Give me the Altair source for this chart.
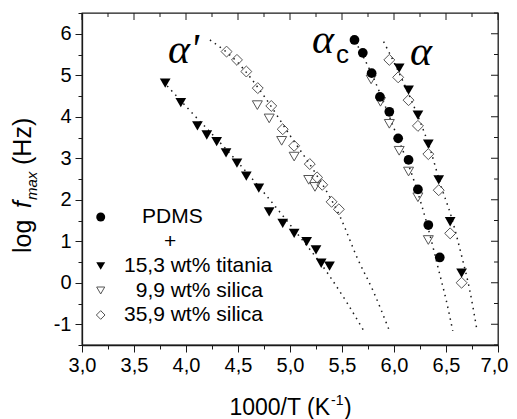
import altair as alt
import pandas as pd

# ---------------- data ----------------
# PDMS (alpha_c)
PDMS_X = [5.62, 5.70, 5.785, 5.865, 5.955, 6.04, 6.14, 6.23, 6.33, 6.44]
PDMS_Y = [5.85, 5.54, 5.05, 4.48, 4.12, 3.48, 2.96, 2.25, 1.39, 0.61]

# 15,3 wt% titania (alpha' and alpha)
TI_X = [3.80, 3.95, 4.11, 4.20, 4.295, 4.385, 4.49, 4.58, 4.70, 4.80, 4.93, 5.04,
        5.16, 5.25, 5.30, 5.38,
        6.05, 6.14, 6.23, 6.33, 6.43, 6.54, 6.65]
TI_Y = [4.81, 4.34, 3.78, 3.56, 3.40, 3.13, 2.88, 2.57, 2.28, 1.71, 1.43, 1.19,
        0.99, 0.79, 0.47, 0.40,
        5.17, 4.64, 4.04, 3.34, 2.48, 1.47, 0.23]

# 9,9 wt% silica (alpha' and alpha_c)
SI9_X = [4.686, 4.80, 4.92, 5.04, 5.18, 5.24,
         5.78, 5.87, 5.955, 6.05, 6.14, 6.23, 6.33]
SI9_Y = [4.28, 3.96, 3.42, 3.04, 2.48, 2.31,
         4.90, 4.36, 3.83, 3.18, 2.68, 2.06, 1.03]

# 35,9 wt% silica (alpha' and alpha)
SI36_X = [4.39, 4.49, 4.58, 4.69, 4.82, 4.93, 5.04, 5.19, 5.26, 5.31, 5.40, 5.47,
          5.955, 6.04, 6.14, 6.23, 6.33, 6.43, 6.54, 6.65]
SI36_Y = [5.57, 5.37, 5.09, 4.69, 4.26, 3.70, 3.30, 2.86, 2.54, 2.36, 1.95, 1.77,
          5.37, 4.95, 4.40, 3.78, 3.10, 2.23, 1.19, 0.00]

# dotted fit curves
FIT_TI_X = [3.78, 4.0, 4.5, 5.0, 5.37, 5.545, 5.71]
FIT_TI_Y = [4.85, 4.25, 2.9, 1.4, 0.2, -0.47, -1.16]
FIT_SI_X = [4.23, 4.5, 4.75, 5.0, 5.25, 5.48, 5.65, 5.8, 5.95]
FIT_SI_Y = [5.85, 5.3, 4.5, 3.55, 2.62, 1.6, 0.58, -0.2, -1.12]
FIT_AC_X = [5.60, 5.8, 6.0, 6.2, 6.33, 6.435, 6.5, 6.565]
FIT_AC_Y = [5.95, 4.95, 3.72, 2.4, 1.3, 0.25, -0.4, -1.16]
FIT_A_X = [5.90, 6.05, 6.2, 6.35, 6.45, 6.55, 6.65, 6.73, 6.80]
FIT_A_Y = [5.81, 5.05, 4.2, 3.2, 2.35, 1.6, 0.65, -0.2, -1.18]

# ticks
X_MAJOR = [3.0, 3.5, 4.0, 4.5, 5.0, 5.5, 6.0, 6.5, 7.0]
X_MINOR = [3.25, 3.75, 4.25, 4.75, 5.25, 5.75, 6.25, 6.75]
Y_MAJOR = [-1, 0, 1, 2, 3, 4, 5, 6]
Y_MINOR = [-1.5, -0.5, 0.5, 1.5, 2.5, 3.5, 4.5, 5.5, 6.5]

LEGEND_LABELS = ["PDMS", "+", "15,3 wt% titania", "9,9 wt% silica", "35,9 wt% silica"]

# ---------------- chart ----------------
W, H = 416, 332
SANS = "Liberation Sans"
SERIF = "Liberation Serif"
INK = "#1a1a1a"
OPEN = "#555555"

xscale = alt.Scale(domain=[3.0, 7.0], nice=False, zero=False)
yscale = alt.Scale(domain=[-1.5, 6.5], nice=False, zero=False)

x_major_test = "abs(datum.value*2 - round(datum.value*2)) < 0.01"
y_major_test = "abs(datum.value - round(datum.value)) < 0.01"

x_axis = alt.Axis(
    values=sorted(X_MAJOR + X_MINOR), title=None, grid=False,
    labelExpr=f"{x_major_test} ? replace(format(datum.value, '.1f'), '.', ',') : ''",
    tickSize={"condition": {"test": x_major_test, "value": 7}, "value": 4},
    labelOffset={"condition": {"test": "datum.value > 6.99", "value": -4}, "value": 0},
    labelFontSize=20, labelPadding=3, labelFlush=False,
)
y_axis = alt.Axis(
    values=sorted(Y_MAJOR + Y_MINOR), title=None, grid=False,
    labelExpr=f"{y_major_test} ? '' + datum.value : ''",
    tickSize={"condition": {"test": y_major_test, "value": 7}, "value": 4},
    labelFontSize=20, labelPadding=4, labelFlush=False,
)


def X(field="x"):
    return alt.X(f"{field}:Q", scale=xscale, axis=x_axis)


def Y(field="y"):
    return alt.Y(f"{field}:Q", scale=yscale, axis=y_axis)


def df(xs, ys):
    return pd.DataFrame({"x": xs, "y": ys})


fits = pd.concat([
    df(FIT_TI_X, FIT_TI_Y).assign(c="ti"),
    df(FIT_SI_X, FIT_SI_Y).assign(c="si"),
    df(FIT_AC_X, FIT_AC_Y).assign(c="ac"),
    df(FIT_A_X, FIT_A_Y).assign(c="a"),
])
fits["o"] = range(len(fits))

one = alt.Data(values=[{"k": 1}])

layers = []
layers.append(
    alt.Chart(fits).mark_line(color=INK, strokeWidth=1.5, strokeDash=[1.5, 4.5],
                              interpolate="monotone")
    .encode(x=X(), y=Y(), detail="c:N", order="o:Q")
)
layers.append(
    alt.Chart(df(SI9_X, SI9_Y)).mark_point(shape="triangle-down", filled=False, color=OPEN,
                                           strokeWidth=1, size=100, opacity=1)
    .encode(x=X(), y=Y())
)
layers.append(
    alt.Chart(df(SI36_X, SI36_Y)).mark_point(shape="diamond", filled=False, color=OPEN,
                                             strokeWidth=1, size=120, opacity=1)
    .encode(x=X(), y=Y())
)
layers.append(
    alt.Chart(df(TI_X, TI_Y)).mark_point(shape="triangle-down", filled=True, color="black",
                                         size=115, opacity=1)
    .encode(x=X(), y=Y())
)
layers.append(
    alt.Chart(df(PDMS_X, PDMS_Y)).mark_point(shape="circle", filled=True, color="black",
                                             size=95, opacity=1)
    .encode(x=X(), y=Y())
)

# mirrored inward ticks on top and right
tx_major = pd.DataFrame({"v": X_MAJOR})
tx_minor = pd.DataFrame({"v": X_MINOR})
ty_major = pd.DataFrame({"v": Y_MAJOR})
ty_minor = pd.DataFrame({"v": Y_MINOR})
for d, ln in [(tx_major, 7), (tx_minor, 4)]:
    layers.append(alt.Chart(d).mark_rule(color=INK, strokeWidth=1)
                  .encode(x=X("v"), y=alt.value(0), y2=alt.value(ln)))
for d, ln in [(ty_major, 7), (ty_minor, 4)]:
    layers.append(alt.Chart(d).mark_rule(color=INK, strokeWidth=1)
                  .encode(y=Y("v"), x=alt.value(W), x2=alt.value(W - ln)))

# legend (inside the plot, lower left)
sym_x = 18.7
rows = [204, 228.5, 253, 277.5, 302]
layers.append(alt.Chart(one).mark_point(shape="circle", filled=True, color="black", size=80, opacity=1)
              .encode(x=alt.value(sym_x), y=alt.value(rows[0])))
layers.append(alt.Chart(one).mark_point(shape="triangle-down", filled=True, color="black", size=80, opacity=1)
              .encode(x=alt.value(sym_x), y=alt.value(rows[2])))
layers.append(alt.Chart(one).mark_point(shape="triangle-down", filled=False, color=OPEN, strokeWidth=1,
                                        size=65, opacity=1)
              .encode(x=alt.value(sym_x), y=alt.value(rows[3])))
layers.append(alt.Chart(one).mark_point(shape="diamond", filled=False, color=OPEN, strokeWidth=1,
                                        size=75, opacity=1)
              .encode(x=alt.value(sym_x), y=alt.value(rows[4])))
leg_pos = [(60, "left"), (88, "center"), (42, "left"), (53.7, "left"), (42, "left")]
for lab, (px, al), ry in zip(LEGEND_LABELS, leg_pos, rows):
    layers.append(alt.Chart(one).mark_text(text=lab, align=al, baseline="middle", font=SANS,
                                           fontSize=21, color="black")
                  .encode(x=alt.value(px), y=alt.value(ry)))

# relaxation labels
def txt(t, px, py, size, font, style="normal"):
    return (alt.Chart(one).mark_text(text=t, align="left", baseline="alphabetic", font=font,
                                     fontSize=size, fontStyle=style, color="black")
            .encode(x=alt.value(px), y=alt.value(py)))

layers.append(txt("α'", 86, 50, 42, SERIF, "italic"))
layers.append(txt("α", 230, 40, 42, SERIF, "italic"))
layers.append(txt("c", 254, 50, 26, SANS))
layers.append(txt("α", 328, 52, 42, SERIF, "italic"))

# x-axis title: 1000/T (K^-1)
layers.append(alt.Chart(one).mark_text(text="1000/T (K", align="right", baseline="alphabetic",
                                       font=SANS, fontSize=23, color="black")
              .encode(x=alt.value(248), y=alt.value(402)))
layers.append(alt.Chart(one).mark_text(text="-1", align="left", baseline="alphabetic",
                                       font=SANS, fontSize=14, color="black")
              .encode(x=alt.value(249), y=alt.value(392)))
layers.append(alt.Chart(one).mark_text(text=")", align="left", baseline="alphabetic",
                                       font=SANS, fontSize=23, color="black")
              .encode(x=alt.value(262), y=alt.value(402)))

# y-axis title: log f_max (Hz), rotated
def ytxt(t, px, py, size, style="normal"):
    return (alt.Chart(one).mark_text(text=t, align="left", baseline="alphabetic", angle=270,
                                     font=SANS, fontSize=size, fontStyle=style, color="black")
            .encode(x=alt.value(px), y=alt.value(py)))

yb = -51
layers.append(ytxt("log", yb, 240, 25))
layers.append(ytxt("f", yb, 195, 25, "italic"))
layers.append(ytxt("max", yb + 6, 187, 15, "italic"))
layers.append(ytxt("(Hz)", yb, 152, 25))

chart = (
    alt.layer(*layers)
    .properties(width=W, height=H,
                autosize=alt.AutoSizeParams(type="none"),
                padding={"left": 74, "top": 5, "right": 11, "bottom": 74})
    .configure_view(stroke=INK, strokeWidth=1.3)
    .configure_axis(labelFont=SANS, labelColor="black", domainColor=INK, tickColor=INK,
                    domainWidth=1.3, tickWidth=1)
)

chart.save("out.html", embed_options={"renderer": "svg", "actions": False})
